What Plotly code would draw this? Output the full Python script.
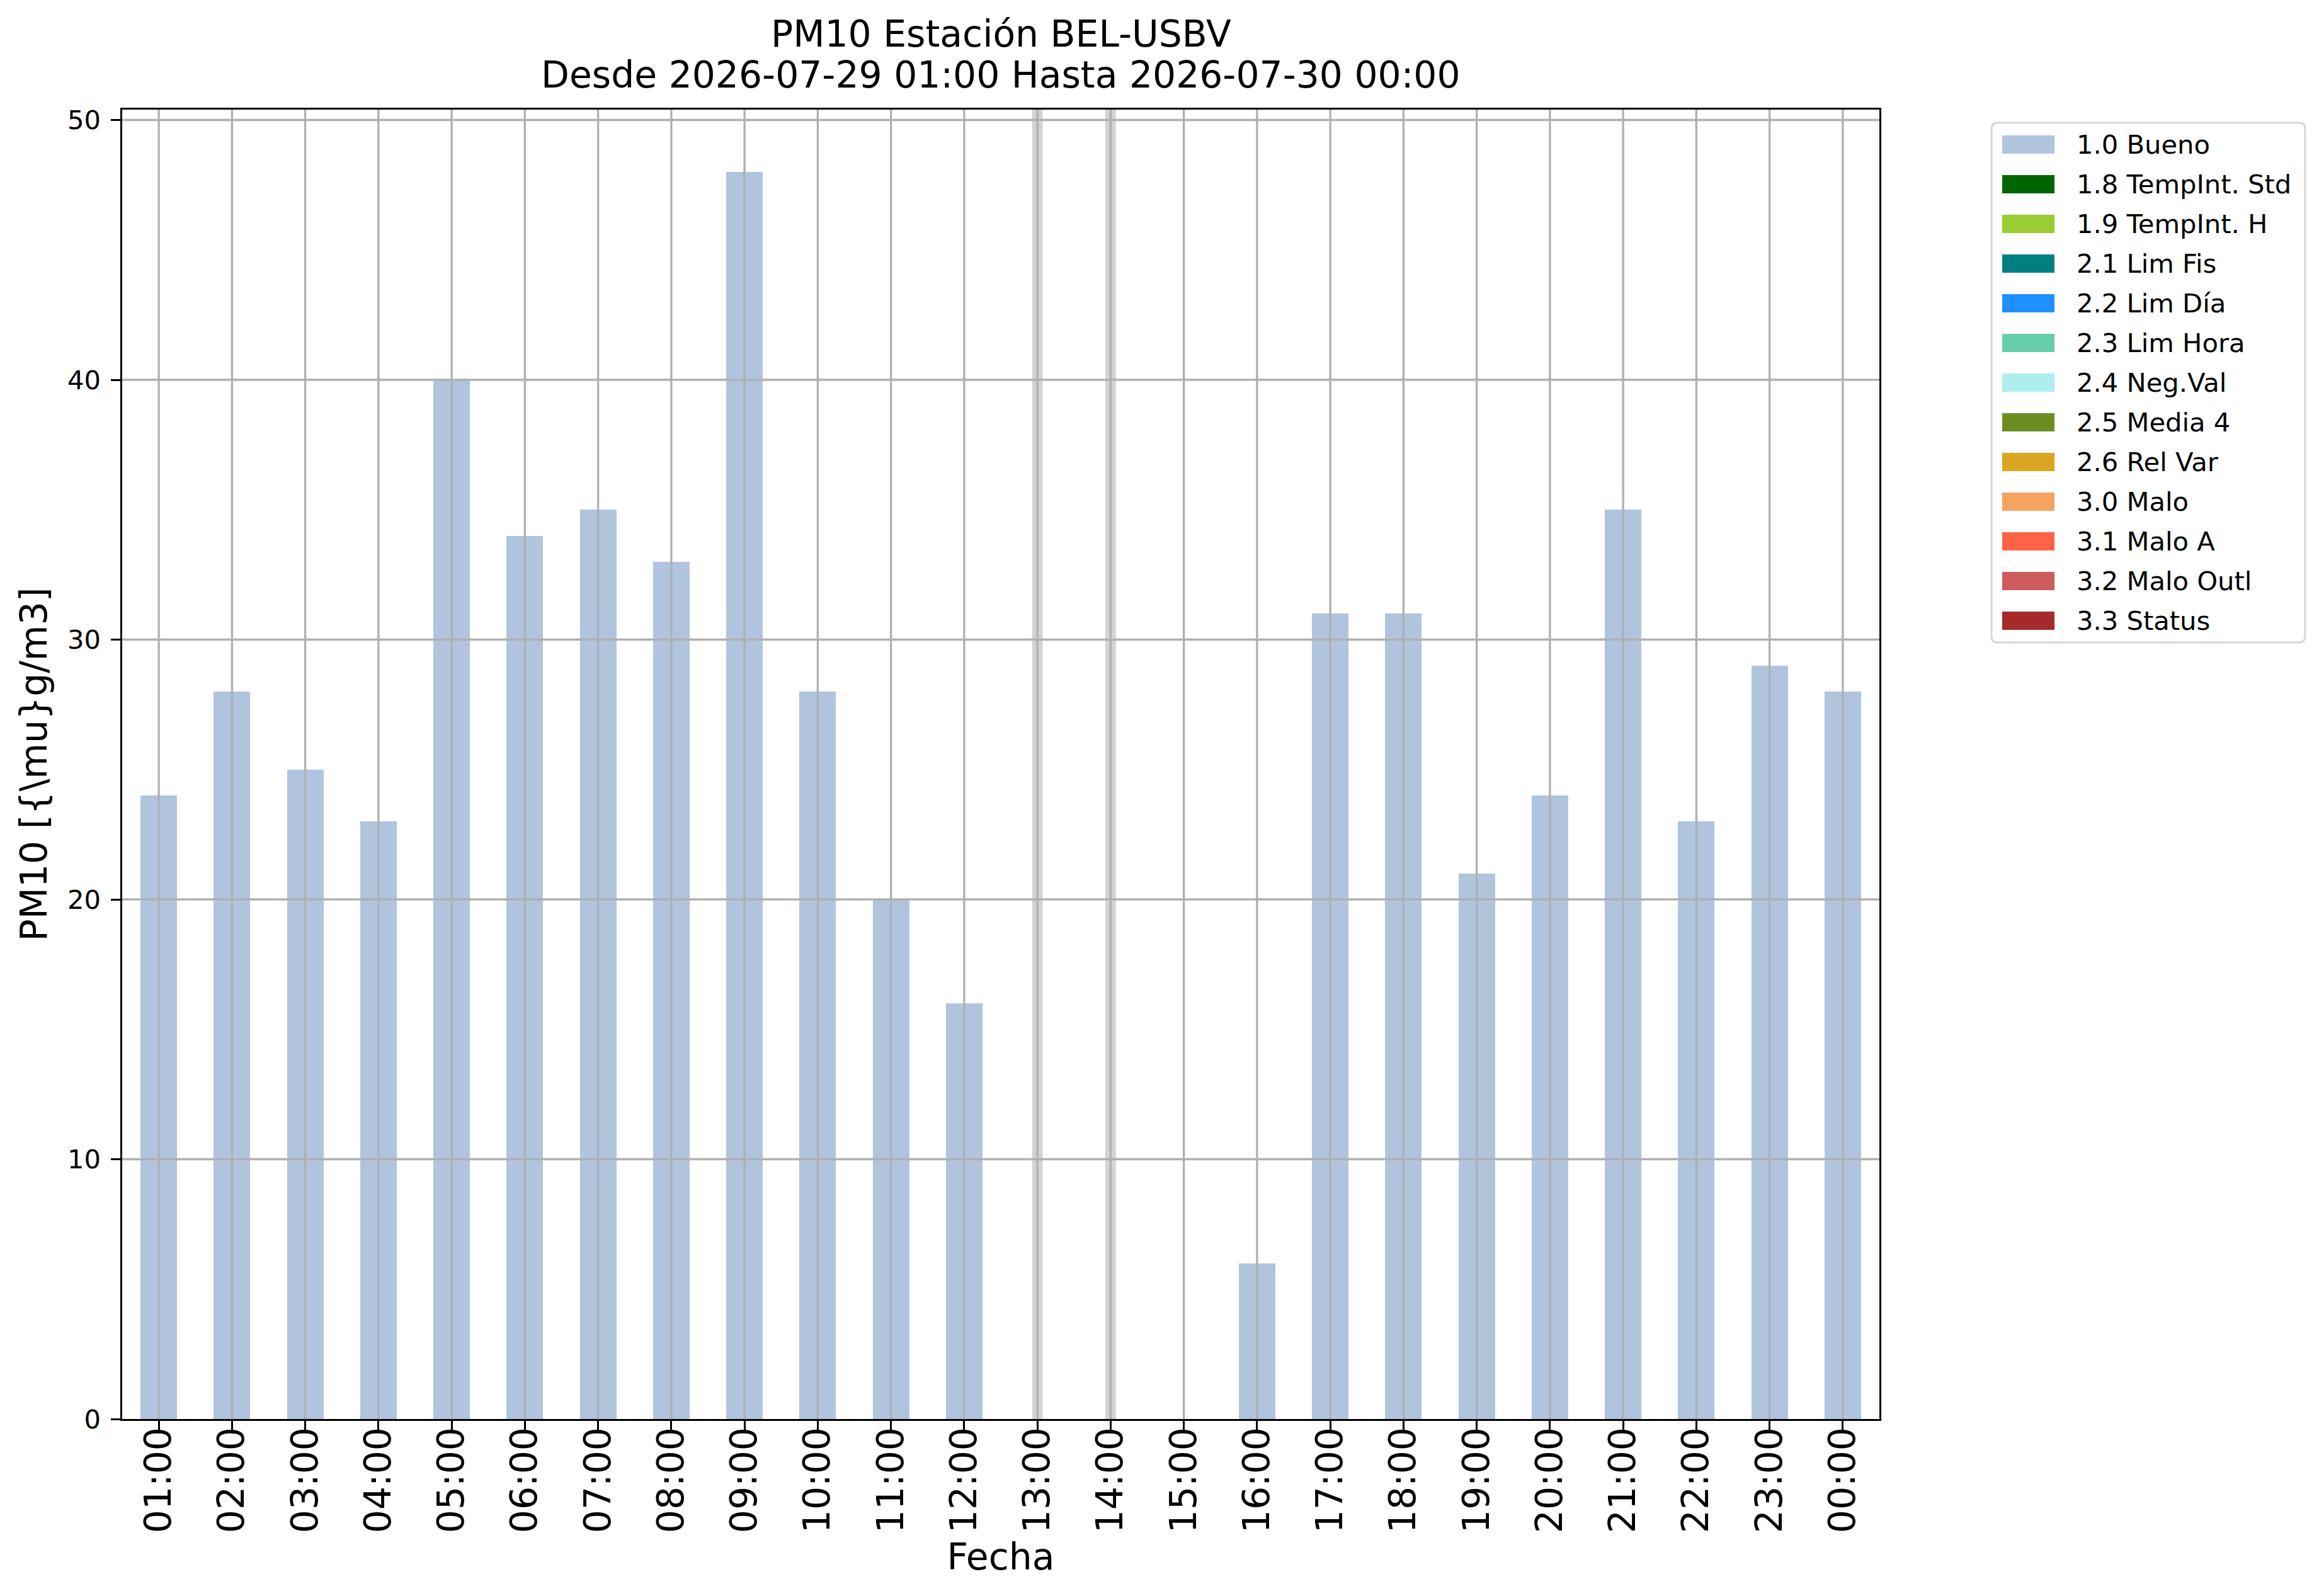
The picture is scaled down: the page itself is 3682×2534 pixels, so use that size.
import plotly.graph_objects as go

# data
hours = ["01:00", "02:00", "03:00", "04:00", "05:00", "06:00", "07:00", "08:00",
         "09:00", "10:00", "11:00", "12:00", "13:00", "14:00", "15:00", "16:00",
         "17:00", "18:00", "19:00", "20:00", "21:00", "22:00", "23:00", "00:00"]
pm10 = [24, 28, 25, 23, 40, 34, 35, 33, 48, 28, 20, 16, None, None, 0, 6,
        31, 31, 21, 24, 35, 23, 29, 28]

flag_names = ["1.0 Bueno", "1.8 TempInt. Std", "1.9 TempInt. H", "2.1 Lim Fis",
              "2.2 Lim Día", "2.3 Lim Hora", "2.4 Neg.Val", "2.5 Media 4",
              "2.6 Rel Var", "3.0 Malo", "3.1 Malo A", "3.2 Malo Outl", "3.3 Status"]
flag_colors = ["#b0c4de", "#006400", "#9acd32", "#008080", "#1e90ff", "#66cdaa",
               "#afeeee", "#6b8e23", "#daa520", "#f4a460", "#ff6347", "#cd5c5c",
               "#a52a2a"]

title_lines = ["PM10 Estación BEL-USBV", "Desde 2026-07-29 01:00 Hasta 2026-07-30 00:00"]
y_ticks = [0, 10, 20, 30, 40, 50]

W, H = 3682, 2534
ML, MR, MT, MB = 186, 706, 166, 289
FONT = "DejaVu Sans"
PT = 300 / 72.0  # px per point


def px_x(px):
    return (px - ML) / (W - ML - MR)


def px_y(py):
    return (H - MB - py) / (H - MB - MT)


fig = go.Figure()
fig.add_trace(go.Bar(x=hours, y=pm10, width=0.5, marker_color=flag_colors[0],
                     marker_line_width=0, name=flag_names[0], showlegend=False))

shapes = []
# grey bands where data is missing
for h, v in zip(hours, pm10):
    if v is None:
        shapes.append(dict(type="line", xref="x", yref="paper", x0=h, x1=h, y0=0, y1=1,
                           line=dict(color="#d3d3d3", width=4 * PT), layer="above"))
# grid drawn over the bars, like matplotlib
for h in hours:
    shapes.append(dict(type="line", xref="x", yref="paper", x0=h, x1=h, y0=0, y1=1,
                       line=dict(color="#b0b0b0", width=0.8 * PT), layer="above"))
for t in y_ticks[1:]:
    shapes.append(dict(type="line", xref="paper", yref="y", x0=0, x1=1, y0=t, y1=t,
                       line=dict(color="#b0b0b0", width=0.8 * PT), layer="above"))

# legend drawn by hand so the patches keep matplotlib's proportions
lx0, lx1, ly0, ly1 = 3154, 3652, 187, 1012
r = 10
path = (f"M {px_x(lx0 + r)},{px_y(ly0)} L {px_x(lx1 - r)},{px_y(ly0)} "
        f"Q {px_x(lx1)},{px_y(ly0)} {px_x(lx1)},{px_y(ly0 + r)} "
        f"L {px_x(lx1)},{px_y(ly1 - r)} Q {px_x(lx1)},{px_y(ly1)} {px_x(lx1 - r)},{px_y(ly1)} "
        f"L {px_x(lx0 + r)},{px_y(ly1)} Q {px_x(lx0)},{px_y(ly1)} {px_x(lx0)},{px_y(ly1 - r)} "
        f"L {px_x(lx0)},{px_y(ly0 + r)} Q {px_x(lx0)},{px_y(ly0)} {px_x(lx0 + r)},{px_y(ly0)} Z")
shapes.append(dict(type="path", xref="paper", yref="paper", path=path,
                   line=dict(color="#d6d6d6", width=3), fillcolor="white", layer="above"))

annotations = []
for i, (name, col) in enumerate(zip(flag_names, flag_colors)):
    cy = 221.5 + i * 63
    shapes.append(dict(type="rect", xref="paper", yref="paper",
                       x0=px_x(3171), x1=px_x(3254), y0=px_y(cy - 14.5), y1=px_y(cy + 14.5),
                       fillcolor=col, line_width=0, layer="above"))
    annotations.append(dict(xref="paper", yref="paper", x=px_x(3287), y=px_y(cy),
                            xanchor="left", yanchor="middle", text=name, showarrow=False,
                            font=dict(family=FONT, size=10 * PT, color="black")))

# two-line title, matplotlib line spacing
for line, cy in zip(title_lines, [46, 111]):
    annotations.append(dict(xref="paper", yref="paper", x=0.5, y=px_y(cy),
                            xanchor="center", yanchor="middle", text=line, showarrow=False,
                            font=dict(family=FONT, size=14 * PT, color="black")))

fig.update_layout(
    width=W, height=H,
    margin=dict(l=ML, r=MR, t=MT, b=MB, autoexpand=False),
    plot_bgcolor="white", paper_bgcolor="white",
    font=dict(family=FONT, color="black"),
    bargap=0,
    shapes=shapes,
    annotations=annotations,
    showlegend=False,
    xaxis=dict(
        type="category", range=[-0.5, len(hours) - 0.5],
        showgrid=False, zeroline=False,
        showline=True, mirror=True, linecolor="black", linewidth=0.8 * PT,
        ticks="outside", ticklen=3.5 * PT, tickwidth=0.8 * PT, tickcolor="black",
        tickangle=-90, ticklabelstandoff=-28,
        tickfont=dict(family=FONT, size=14 * PT, color="black"),
        title=dict(text="Fecha", standoff=18,
                   font=dict(family=FONT, size=14 * PT, color="black")),
    ),
    yaxis=dict(
        range=[0, 50.4], tickvals=y_ticks,
        showgrid=False, zeroline=False,
        showline=True, mirror=True, linecolor="black", linewidth=0.8 * PT,
        ticks="outside", ticklen=3.5 * PT, tickwidth=0.8 * PT, tickcolor="black",
        ticklabelstandoff=8,
        tickfont=dict(family=FONT, size=10 * PT, color="black"),
        title=dict(text="PM10 [{\\mu}g/m3]", standoff=14,
                   font=dict(family=FONT, size=14 * PT, color="black")),
    ),
)

fig.write_html("out.html")
